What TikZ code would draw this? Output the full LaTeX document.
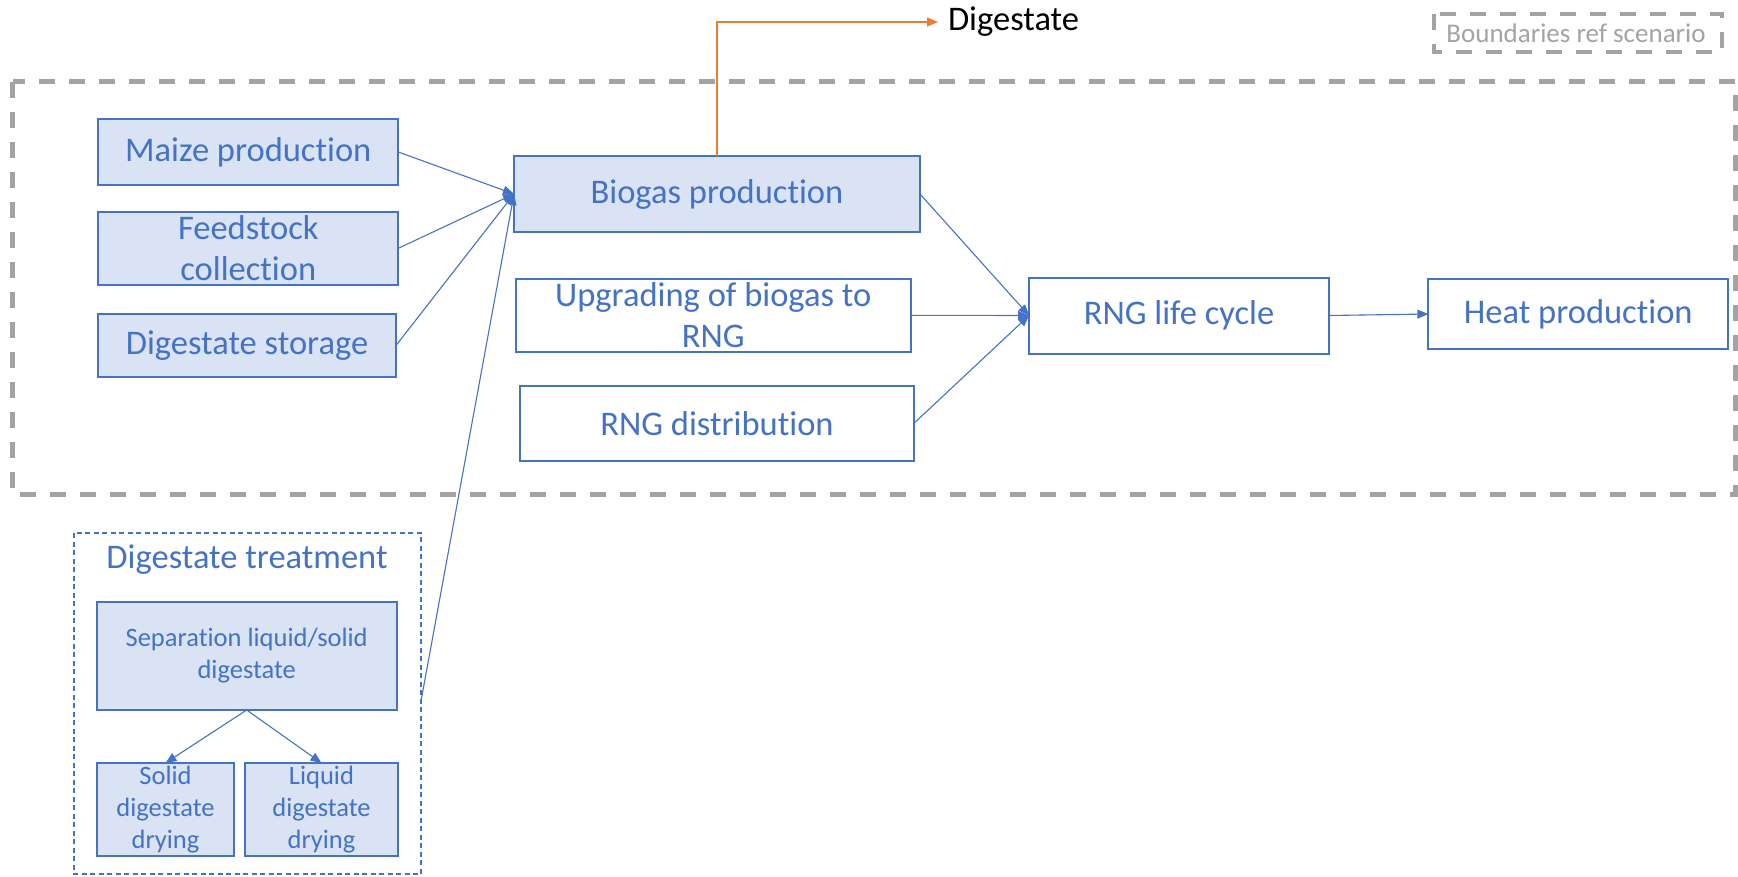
\documentclass[tikz,border=0pt]{standalone}
\usepackage{fontspec}
\setmainfont{Carlito}[Ligatures={NoCommon,NoRequired,NoContextual},RawFeature={-liga;-dlig}]
\usetikzlibrary{arrows.meta}
\definecolor{oblue}{HTML}{4472C4}
\definecolor{ofill}{HTML}{DAE3F3}
\definecolor{ogray}{HTML}{A3A3A3}
\definecolor{oorange}{HTML}{ED7D31}
\begin{document}
\begin{tikzpicture}[x=1pt,y=-1pt,
  every node/.style={inner sep=0pt,outer sep=0pt,align=center},
  bigtxt/.style={font=\fontsize{34.5}{41}\selectfont,text=oblue},
  smalltxt/.style={font=\fontsize{26.5}{32}\selectfont,text=oblue},
  filledbox/.style={draw=oblue,fill=ofill,line width=2pt},
  plainbox/.style={draw=oblue,fill=white,line width=2pt},
  flow/.style={draw=oblue,line width=1.1pt,-{Triangle[length=11pt,width=9pt]}},
  boundary/.style={draw=ogray,line width=4.5pt,dash pattern=on 16pt off 14pt}]
\useasboundingbox (0,0) rectangle (1738,876);

% system boundary of the reference scenario
\draw[boundary] (12.6,81.7) rectangle (1735.6,494.7);

% legend
\draw[boundary] (1434,14) rectangle (1722,52);
\node[font=\fontsize{27}{32}\selectfont,text=ogray] (legend) at (1576,33) {Boundaries ref scenario};

% upstream processes
\node[filledbox,bigtxt,minimum width=300,minimum height=66] (maize) at (248.3,152) {Maize production};
\node[filledbox,bigtxt,minimum width=300,minimum height=73] (feed) at (248.3,248.3) {Feedstock\\collection};
\node[filledbox,bigtxt,minimum width=298,minimum height=63] (storage) at (247,345.5) {Digestate storage};

% central processes
\node[filledbox,bigtxt,minimum width=406,minimum height=76] (biogas) at (717,194) {Biogas production};
\node[plainbox,bigtxt,minimum width=395,minimum height=73] (upgrade) at (713.3,315.3) {Upgrading of biogas to\\RNG};
\node[plainbox,bigtxt,minimum width=394,minimum height=75] (dist) at (717,423.3) {RNG distribution};
\node[plainbox,bigtxt,minimum width=300,minimum height=76] (rnglc) at (1179,315.5) {RNG life cycle};
\node[plainbox,bigtxt,minimum width=300,minimum height=70] (heat) at (1578.3,314) {Heat production};

% digestate output
\node[anchor=west,font=\fontsize{34.5}{41}\selectfont,text=black] (dig) at (948,22) {Digestate};
\coordinate (digtip) at (938,22);
\draw[draw=oorange,line width=1.1pt,-{Triangle[length=11pt,width=9pt]}] (biogas.north) |- (digtip);

% digestate treatment group
\draw[draw=oblue,line width=1.3pt,dash pattern=on 5pt off 3.5pt] (74,533) rectangle (421,874);
\coordinate (dt) at (421,701);
\node[bigtxt] (dttitle) at (247,560) {Digestate treatment};
\node[filledbox,smalltxt,minimum width=300,minimum height=108] (sep) at (246.7,656) {Separation liquid/solid\\digestate};
\node[filledbox,smalltxt,minimum width=137,minimum height=93] (solid) at (165.5,809.5) {Solid\\digestate\\drying};
\node[filledbox,smalltxt,minimum width=153,minimum height=93] (liquid) at (321.5,809.5) {Liquid\\digestate\\drying};

% connectors
\draw[flow] (maize.east) -- (biogas.west);
\draw[flow] (feed.east) -- (biogas.west);
\draw[flow] (storage.east) -- (biogas.west);
\draw[flow] (dt) -- (biogas.west);
\draw[flow] (biogas.east) -- (rnglc.west);
\draw[flow] (upgrade.east) -- (rnglc.west);
\draw[flow] (dist.east) -- (rnglc.west);
\draw[flow] (rnglc.east) -- (heat.west);
\draw[flow] (sep.south) -- (solid.north);
\draw[flow] (sep.south) -- (liquid.north);
\end{tikzpicture}
\end{document}
